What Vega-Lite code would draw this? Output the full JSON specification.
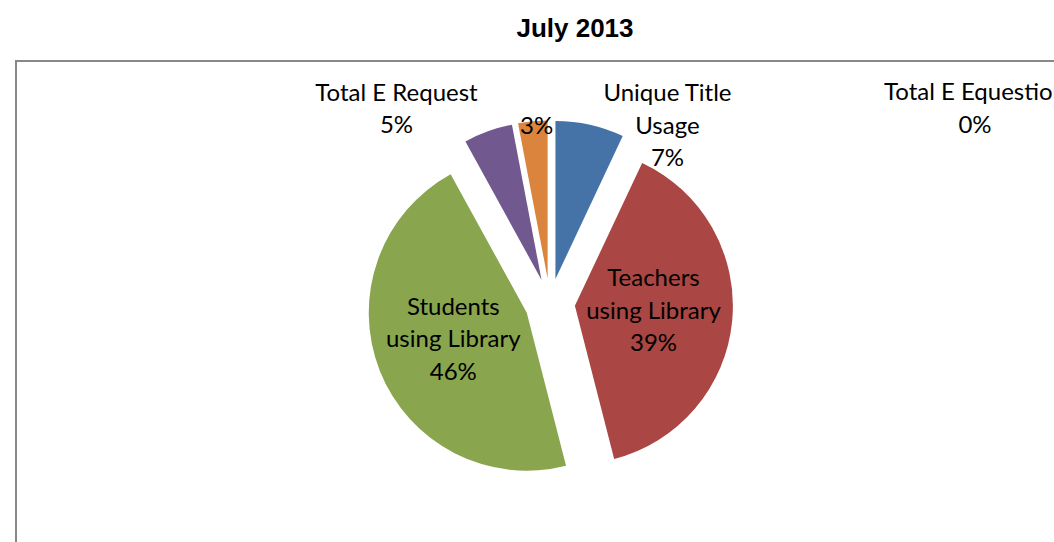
{
  "$schema": "https://vega.github.io/schema/vega-lite/v6.json",
  "width": 1054,
  "height": 542,
  "autosize": {"type": "fit", "contains": "padding"},
  "padding": {"left": 16, "top": 16, "right": -4, "bottom": -4},
  "background": "white",
  "title": {
    "text": "July 2013",
    "font": "Liberation Sans",
    "fontSize": 26,
    "fontWeight": "bold",
    "color": "black",
    "offset": 19,
    "dx": 38
  },
  "config": {
    "view": {"stroke": "#888888", "strokeWidth": 2}
  },
  "data": {
    "values": [
      {"category": "Unique Title Usage", "value": 7},
      {"category": "Teachers using Library", "value": 39},
      {"category": "Students using Library", "value": 46},
      {"category": "Total E Request", "value": 5},
      {"category": "Other", "value": 3},
      {"category": "Total E Equestion", "value": 0}
    ]
  },
  "transform": [
    {"window": [{"op": "sum", "field": "value", "as": "end"}], "frame": [null, 0]},
    {"calculate": "datum.end - datum.value", "as": "start"},
    {"calculate": "(datum.start + datum.end) / 2", "as": "mid"},
    {"calculate": "datum.mid / 100 * 2 * PI", "as": "ang"},
    {"calculate": "25 * sin(datum.ang)", "as": "ex"},
    {"calculate": "25 * cos(datum.ang)", "as": "ey"}
  ],
  "encoding": {
    "x": {"field": "ex", "type": "quantitative", "scale": {"domain": [-534, 508], "nice": false, "zero": false}, "axis": null},
    "y": {"field": "ey", "type": "quantitative", "scale": {"domain": [-242, 242], "nice": false, "zero": false}, "axis": null}
  },
  "layer": [
    {
      "mark": {"type": "arc", "radius": 158},
      "encoding": {
        "theta": {"field": "start", "type": "quantitative", "stack": null, "scale": {"domain": [0, 100], "range": [0, 6.283185307]}},
        "theta2": {"field": "end"},
        "color": {
          "field": "category",
          "type": "nominal",
          "scale": {
            "domain": ["Unique Title Usage", "Teachers using Library", "Students using Library", "Total E Request", "Other", "Total E Equestion"],
            "range": ["#4572A7", "#AA4643", "#89A54E", "#71588F", "#DB843D", "#4198AF"]
          },
          "legend": null
        }
      }
    },
    {
      "transform": [
        {"filter": {"field": "category", "oneOf": ["Teachers using Library", "Students using Library"]}},
        {"calculate": "slice(datum.category, 0, indexof(datum.category, ' ')) + '\\n' + slice(datum.category, indexof(datum.category, ' ') + 1) + '\\n' + datum.value + '%'", "as": "label"}
      ],
      "mark": {"type": "text", "radius": 79, "dy": -34, "font": "Lato", "fontSize": 24, "lineHeight": 32.5, "lineBreak": "\n", "color": "black", "align": "center", "baseline": "middle"},
      "encoding": {
        "theta": {"field": "mid", "type": "quantitative", "stack": null, "scale": {"domain": [0, 100], "range": [0, 6.283185307]}},
        "text": {"field": "label", "type": "nominal"}
      }
    },
    {
      "transform": [
        {"filter": {"field": "category", "equal": "Unique Title Usage"}},
        {"calculate": "slice(datum.category, 0, lastindexof(datum.category, ' ')) + '\\n' + slice(datum.category, lastindexof(datum.category, ' ') + 1) + '\\n' + datum.value + '%'", "as": "label"}
      ],
      "mark": {"type": "text", "dx": 112, "dy": -185, "font": "Lato", "fontSize": 24, "lineHeight": 32.5, "lineBreak": "\n", "color": "black", "align": "center", "baseline": "middle"},
      "encoding": {"text": {"field": "label", "type": "nominal"}}
    },
    {
      "transform": [
        {"filter": {"field": "category", "equal": "Total E Request"}},
        {"calculate": "datum.category + '\\n' + datum.value + '%'", "as": "label"}
      ],
      "mark": {"type": "text", "dx": -145, "dy": -186, "font": "Lato", "fontSize": 24, "lineHeight": 32.5, "lineBreak": "\n", "color": "black", "align": "center", "baseline": "middle"},
      "encoding": {"text": {"field": "label", "type": "nominal"}}
    },
    {
      "transform": [
        {"filter": {"field": "category", "equal": "Other"}},
        {"calculate": "datum.value + '%'", "as": "label"}
      ],
      "mark": {"type": "text", "dx": -11, "dy": -152, "font": "Lato", "fontSize": 24, "color": "black", "align": "center", "baseline": "middle"},
      "encoding": {"text": {"field": "label", "type": "nominal"}}
    },
    {
      "transform": [
        {"filter": {"field": "category", "equal": "Total E Equestion"}},
        {"calculate": "datum.category + '\\n' + datum.value + '%'", "as": "label"}
      ],
      "mark": {"type": "text", "clip": true, "dx": 425, "dy": -185, "font": "Lato", "fontSize": 24, "lineHeight": 32.5, "lineBreak": "\n", "color": "black", "align": "center", "baseline": "middle"},
      "encoding": {"text": {"field": "label", "type": "nominal"}}
    }
  ]
}
